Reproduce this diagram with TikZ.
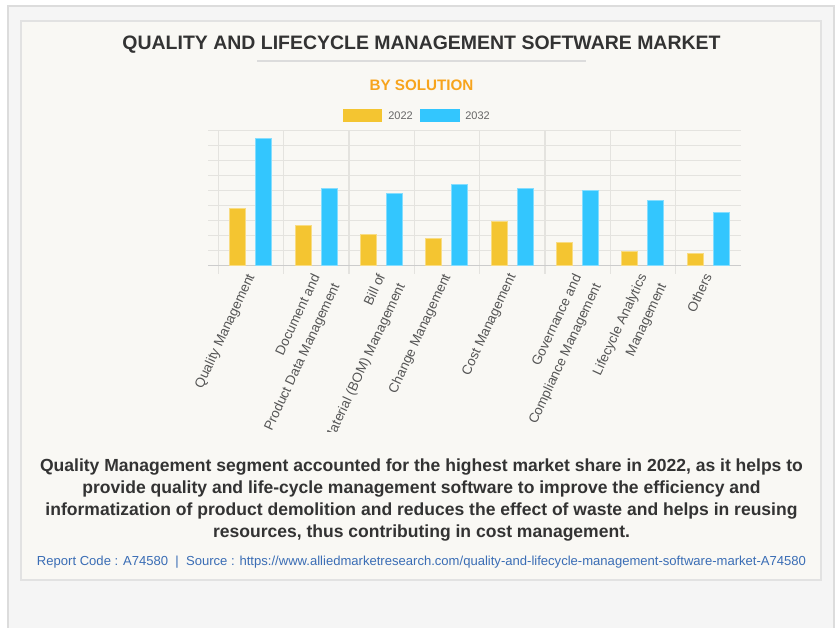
\documentclass[tikz,border=0pt]{standalone}
\usepackage{fontspec}
\setmainfont{Liberation Sans}
\definecolor{outerbg}{HTML}{F5F5F5}
\definecolor{outerln}{HTML}{DCDCDC}
\definecolor{cardbg}{HTML}{F9F8F4}
\definecolor{cardln}{HTML}{E2E2E2}
\definecolor{titlec}{HTML}{333333}
\definecolor{orangec}{HTML}{F7A41D}
\definecolor{legc}{HTML}{666666}
\definecolor{labc}{HTML}{555555}
\definecolor{gridc}{HTML}{E4E3DF}
\definecolor{basec}{HTML}{CCCCCC}
\definecolor{colY}{HTML}{F4C531}
\definecolor{colB}{HTML}{33C6FE}
\definecolor{linkc}{HTML}{3A6DB5}
\tikzset{
  ttl/.style={anchor=base, inner sep=0pt, text=titlec, font=\fontsize{14.6}{16}\selectfont\bfseries},
  subttl/.style={anchor=base, inner sep=0pt, text=orangec, font=\fontsize{11.4}{13}\selectfont\bfseries},
  legtxt/.style={anchor=base west, inner sep=0pt, text=legc, font=\fontsize{8.25}{10}\selectfont},
  axlab/.style={rotate=65, anchor=north east, inner sep=0pt, align=right, text=labc, font=\fontsize{10.1}{16.3}\selectfont},
  para/.style={anchor=base, inner sep=0pt, text=titlec, align=center, font=\fontsize{13.15}{16.35}\selectfont\bfseries},
  foot/.style={anchor=base west, inner sep=0pt, text=linkc, font=\fontsize{9.8}{11}\selectfont},
  gridln/.style={draw=gridc, line width=0.9pt},
  ybarst/.style={fill=colY, draw=colY!60!white, line width=0.5pt},
  bbarst/.style={fill=colB, draw=colB!60!white, line width=0.5pt},
}
\begin{document}
\begin{tikzpicture}[x=0.75pt,y=-0.75pt]
\useasboundingbox (0,0) rectangle (836,628);
\fill[white] (0,0) rectangle (836,628);
% frames
\draw[fill=outerbg, draw=outerln, line width=1.2pt] (8,6) rectangle (834,650);
\draw[fill=cardbg, draw=cardln, line width=0.8pt] (21,21) rectangle (821,580);
% title
\node[ttl] (title) at (421.5,50) {QUALITY AND LIFECYCLE MANAGEMENT SOFTWARE MARKET};
\coordinate (ulA) at (257,61);
\coordinate (ulB) at (586,61);
\draw[draw=outerln, line width=1.5pt] (ulA) -- (ulB);
\node[subttl] (sub) at (421.5,90.5) {BY SOLUTION};
% legend
\fill[fill=colY] (343,109) rectangle (382,122);
\node[legtxt] (l22) at (388,119.5) {2022};
\fill[fill=colB] (420,109) rectangle (460,122);
\node[legtxt] (l32) at (465,119.5) {2032};
% grid
\foreach \k in {0,...,9} {
  \draw[gridln] (208.3,{130.7+14.95*\k}) -- (741,{130.7+14.95*\k});
}
\foreach \i in {0,...,7} {
  \draw[gridln] ({218.3+65.35*\i},130.7) -- ({218.3+65.35*\i},273.5);
}
\draw[draw=basec, line width=0.9pt] (208.3,265.3) -- (741,265.3);
% bars
\foreach \i/\yt/\bt in {0/208/138.7, 1/225/188, 2/234.3/193.7, 3/238.3/184.3, 4/221.3/188.7, 5/242.7/190.7, 6/251/200, 7/253.7/212.7} {
  \draw[ybarst] ({218.3+65.35*\i+11.4},265) rectangle ({218.3+65.35*\i+27.4},\yt);
  \draw[bbarst] ({218.3+65.35*\i+37.4},265) rectangle ({218.3+65.35*\i+53.4},\bt);
}
% axis labels
\begin{scope}
\clip (21,268) rectangle (821,431);
\node[axlab] (c1) at ({218.3+65.35*0+27.5},272.2) {Quality Management};
\node[axlab] (c2) at ({218.3+65.35*1+27.5},272.2) {Document and\\Product Data Management};
\node[axlab] (c3) at ({218.3+65.35*2+27.5},272.2) {Bill of\\Material (BOM) Management};
\node[axlab] (c4) at ({218.3+65.35*3+27.5},272.2) {Change Management};
\node[axlab] (c5) at ({218.3+65.35*4+27.5},272.2) {Cost Management};
\node[axlab] (c6) at ({218.3+65.35*5+27.5},272.2) {Governance and\\Compliance Management};
\node[axlab] (c7) at ({218.3+65.35*6+27.5},272.2) {Lifecycle Analytics\\Management};
\node[axlab] (c8) at ({218.3+65.35*7+27.5},272.2) {Others};
\end{scope}
% paragraph
\node[para] (p1) at (421.5,471.7) {Quality Management segment accounted for the highest market share in 2022, as it helps to};
\node[para] (p2) at (421.5,493.5) {provide quality and life-cycle management software to improve the efficiency and};
\node[para] (p3) at (421.5,515.3) {informatization of product demolition and reduces the effect of waste and helps in reusing};
\node[para] (p4) at (421.5,537.1) {resources, thus contributing in cost management.};
% footer
\node[foot] (src) at (36.7,565) {Report Code : A74580 \ | \ Source : https://www.alliedmarketresearch.com/quality-and-lifecycle-management-software-market-A74580};
\end{tikzpicture}
\end{document}
